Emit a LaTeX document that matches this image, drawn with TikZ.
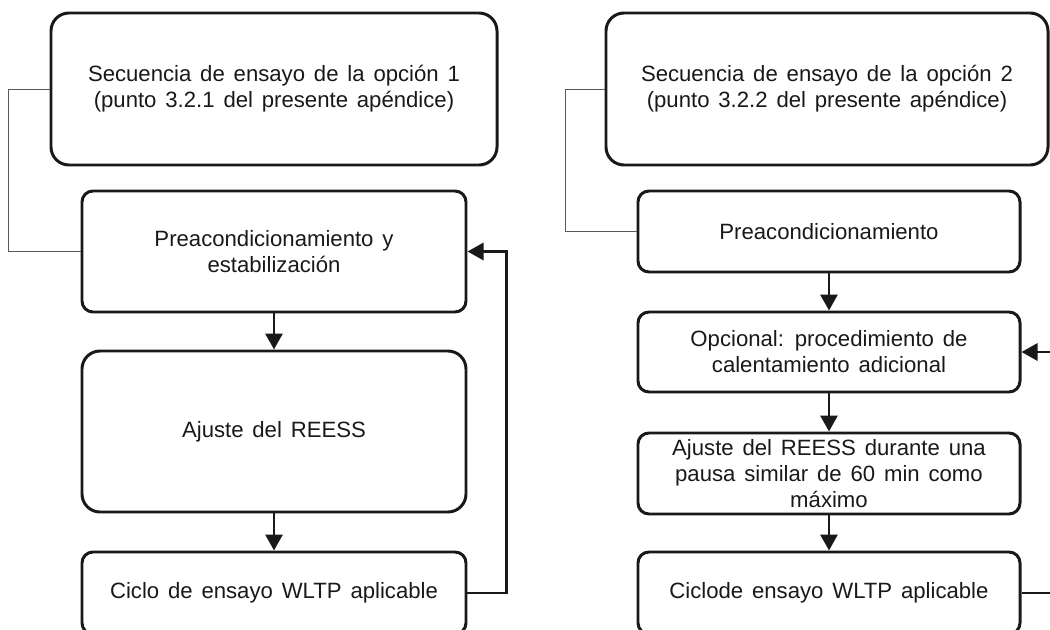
\documentclass[tikz,border=0pt]{standalone}
\usepackage{fontspec}
\setmainfont{Liberation Sans}
\usetikzlibrary{arrows.meta, positioning, calc}
\newcommand\boxfont{\fontsize{12.6}{14.8}\selectfont\spaceskip=0.4em plus 0.1em\relax}

\begin{document}
\begin{tikzpicture}[
			x=0.2mm, y=-0.2mm,
			stepbig/.style={rectangle, draw=black!90, line width=1.7pt, rounded corners=3.6mm, align=center, inner ysep=0pt, text=black!90, font=\boxfont},
			stepbox/.style={stepbig, rounded corners=2.2mm},
			flow/.style={-{Triangle[width=3.4mm, length=3.2mm]}, line width=1.7pt, draw=black!90},
			link/.style={draw=black!65, line width=0.5pt}
			]
			
			% Frame
			\useasboundingbox (0,0) rectangle (1050,630);
			\clip (0,0) rectangle (1050,630);
			\fill[white] (0,0) rectangle (1050,630);
			
			% Option 1
			\node[stepbig, minimum width=89.2mm, minimum height=30.4mm] (a1) at (274,89) {Secuencia de ensayo de la opción 1\\(punto 3.2.1 del presente apéndice)};
			\node[stepbox, minimum width=76.8mm, minimum height=24.2mm] (a2) at (274,251.5) {Preacondicionamiento y\\estabilización};
			\node[stepbig, minimum width=76.8mm, minimum height=32.2mm] (a3) at (274,431.5) {Ajuste del REESS};
			\node[stepbox, minimum width=76.8mm, minimum height=16.4mm] (a4) at (274,593) {Ciclo de ensayo WLTP aplicable};
			
			% Option 2
			\node[stepbig, minimum width=88.4mm, minimum height=30.4mm] (b1) at (827,89) {Secuencia de ensayo de la opción 2\\(punto 3.2.2 del presente apéndice)};
			\node[stepbox, minimum width=76.4mm, minimum height=16.2mm] (b2) at (829,231.5) {Preacondicionamiento};
			\node[stepbox, minimum width=76.4mm, minimum height=16mm] (b3) at (829,352) {Opcional: procedimiento de\\calentamiento adicional};
			\node[stepbox, minimum width=76.4mm, minimum height=16.2mm] (b4) at (829,473.5) {Ajuste del REESS durante una\\pausa similar de 60 min como\\máximo};
			\node[stepbox, minimum width=76.4mm, minimum height=16.4mm] (b5) at (829,593) {Ciclode ensayo WLTP aplicable};
			
			% Arrows
			\draw[flow] (a2) -- (a3);
			\draw[flow] (a3) -- (a4);
			\draw[flow] (a4.east) -- ++(39,0) |- (a2.east);
			\draw[flow] (b2) -- (b3);
			\draw[flow] (b3) -- (b4);
			\draw[flow] (b4) -- (b5);
			\draw[flow] (b5.east) -- ++(40,0) |- (b3.east);
			
			% Side links
			\draw[link] (a1.west) -- ++(-41,0) |- (a2.west);
			\draw[link] (b1.west) -- ++(-39,0) |- (b2.west);
			
		\end{tikzpicture}
\end{document}
